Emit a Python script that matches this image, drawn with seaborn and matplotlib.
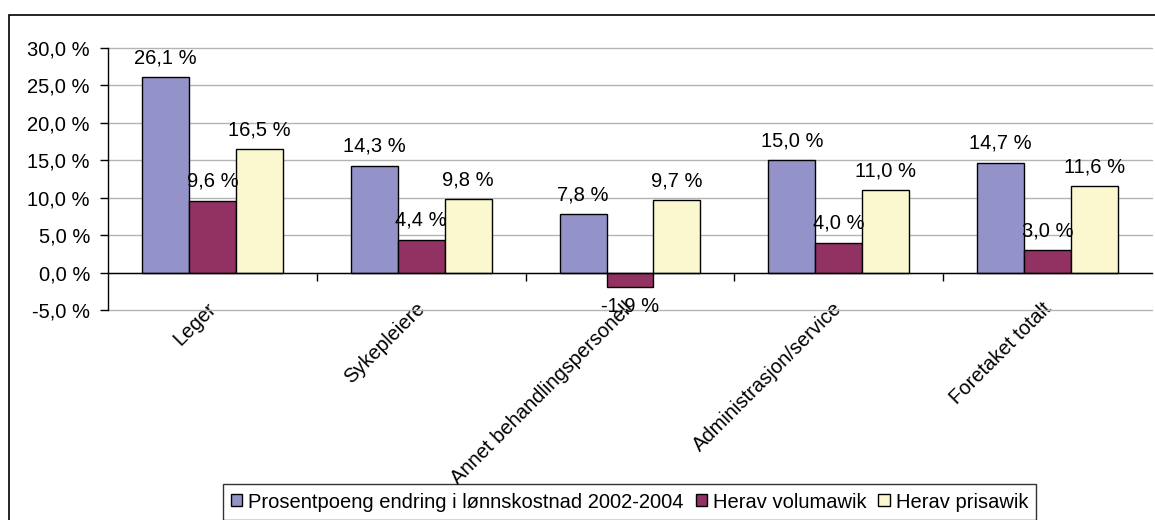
import pandas as pd
import matplotlib.pyplot as plt
import matplotlib.ticker as mticker
import matplotlib.transforms as mtrans
from matplotlib.patches import Rectangle
import seaborn as sns

# --- Data ---
categories = ["Leger", "Sykepleiere", "Annet behandlingspersonell",
              "Administrasjon/service", "Foretaket totalt"]
series_names = ["Prosentpoeng endring i lønnskostnad 2002-2004",
                "Herav volumawik", "Herav prisawik"]
endring = [26.1, 14.3, 7.8, 15.0, 14.7]
volumawik = [9.6, 4.4, -1.9, 4.0, 3.0]
prisawik = [16.5, 9.8, 9.7, 11.0, 11.6]
y_ticks = [-5, 0, 5, 10, 15, 20, 25, 30]

colors = ["#9393C9", "#923263", "#FBF8CF"]

df = pd.DataFrame({
    "kategori": categories * 3,
    "serie": [series_names[0]] * 5 + [series_names[1]] * 5 + [series_names[2]] * 5,
    "verdi": endring + volumawik + prisawik,
})

sns.set_theme(style="white")
plt.rcParams['font.family'] = ['Liberation Sans', 'DejaVu Sans']
plt.rcParams['text.color'] = 'black'
plt.rcParams['xtick.color'] = 'black'
plt.rcParams['ytick.color'] = 'black'

FS = 14.5

fig = plt.figure(figsize=(11.55, 5.2), dpi=100)
ax = fig.add_axes([108 / 1155, 1 - 310 / 520, 1044 / 1155, 262 / 520])

sns.barplot(data=df, x="kategori", y="verdi", hue="serie", order=categories,
            hue_order=series_names, palette=colors, width=0.675,
            edgecolor="black", linewidth=1, saturation=1, ax=ax, legend=False)

# data labels
for cont in ax.containers:
    labs = [f"{b.get_height():.1f} %".replace(".", ",") for b in cont]
    ax.bar_label(cont, labels=labs, padding=7, fontsize=FS, color="black")

ax.set_xlim(-0.5, 4.5)
ax.set_ylim(-5, 30)
ax.set_yticks(y_ticks)
ax.yaxis.set_major_formatter(mticker.FuncFormatter(
    lambda v, p: f"{v:.1f} %".replace(".", ",")))
ax.yaxis.grid(True, color="#b4b4b4", linewidth=1)
ax.set_axisbelow(True)
for gl in ax.get_ygridlines():
    gl.set_clip_on(False)

for s in ["top", "right"]:
    ax.spines[s].set_visible(False)
ax.spines["left"].set_color("black")
ax.spines["left"].set_linewidth(1)
ax.spines["bottom"].set_position(("data", 0))
ax.spines["bottom"].set_color("black")
ax.spines["bottom"].set_linewidth(1)

ax.tick_params(axis="y", left=True, direction="out", length=6, width=1,
               labelsize=FS, pad=7)
ax.set_xticks(range(len(categories)))
ax.set_xticks([0.5, 1.5, 2.5, 3.5], minor=True)
ax.tick_params(axis="x", which="major", length=0, pad=19, labelsize=FS)
ax.tick_params(axis="x", which="minor", bottom=True, direction="out",
               length=6, width=1)
ax.set_xticklabels(categories, rotation=45, ha="right", rotation_mode="anchor")
shift = mtrans.ScaledTranslation(-6 / 100, 0, fig.dpi_scale_trans)
for lab in ax.get_xticklabels():
    lab.set_transform(lab.get_transform() + shift)
ax.set_xlabel("")
ax.set_ylabel("")

# legend
handles = [Rectangle((0, 0), 1, 1, facecolor=c, edgecolor="black", linewidth=1)
           for c in colors]
leg = fig.legend(handles, series_names, loc="center",
                 bbox_to_anchor=(629.5 / 1155, 1 - 502 / 520), ncol=3,
                 fontsize=FS, frameon=True, fancybox=False,
                 handlelength=0.55, handleheight=0.55, handletextpad=0.3,
                 columnspacing=0.6, borderpad=0.4)
leg.get_frame().set_edgecolor("black")
leg.get_frame().set_linewidth(1)

# outer chart border
fig.patches.append(Rectangle((9 / 1155, -0.1), 1.2, 1 - 15 / 520 + 0.1,
                             transform=fig.transFigure, fill=False,
                             edgecolor="black", linewidth=1.2))

fig.savefig("out.png", dpi=100)
